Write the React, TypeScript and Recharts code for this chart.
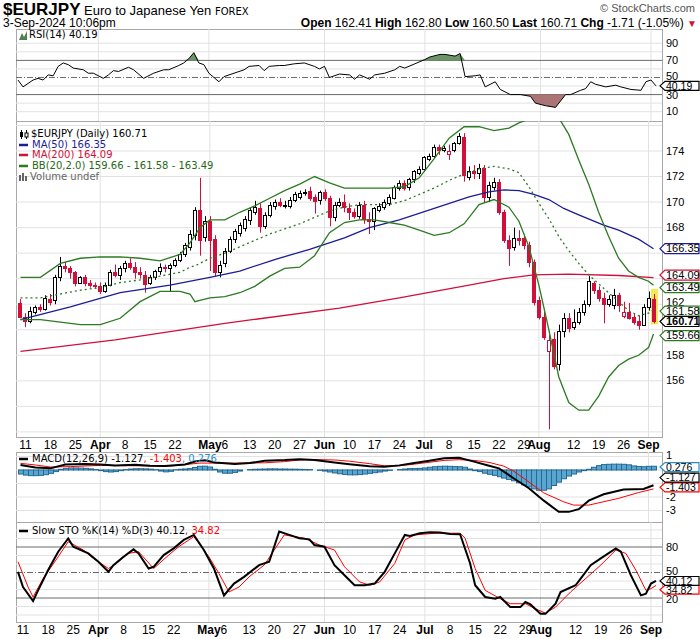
import React from 'react';
import { ComposedChart, Bar, Line, Area, XAxis, YAxis, ReferenceLine } from 'recharts';

// ---- daily bars, Mar 8 .. Sep 3 2024 (index 0..127) ----
const open = [
  162.1,
  161.0, 160.7, 161.4, 161.8, 161.6,
  162.4, 162.3, 164.1, 165.0, 164.8,
  164.5, 163.7, 164.1, 163.7, 163.5,
  163.4, 163.0, 163.5, 164.5, 164.3,
  164.8, 165.2, 164.9, 164.5, 164.3,
  163.7, 164.1, 164.6, 164.9, 164.8,
  165.1, 165.5, 165.9, 166.5, 167.4,
  169.4, 167.3, 168.5, 167.1, 164.5,
  165.2, 166.2, 167.1, 167.6, 168.0,
  168.6, 169.2, 169.5, 168.1, 169.0,
  169.7, 170.0, 169.8, 169.7, 170.2,
  170.4, 170.7, 170.9, 170.4, 170.2,
  170.8, 170.3, 168.8, 169.8, 170.0,
  169.5, 169.2, 168.9, 169.8, 168.7,
  168.5, 169.4, 169.6, 169.9, 170.3,
  171.1, 171.5, 171.2, 171.8, 172.3,
  172.6, 173.4, 173.6, 174.3, 174.1,
  173.8, 174.1, 174.6, 175.1, 172.0,
  172.4, 172.3, 172.7, 170.4, 171.2,
  171.6, 169.2, 167.0, 166.5, 167.2,
  167.2, 166.6, 165.3, 162.3, 161.0,
  158.3, 159.3, 157.3, 159.9, 160.9,
  160.2, 160.6, 161.4, 162.0, 163.7,
  163.1, 162.5, 162.0, 161.9, 162.7,
  161.1, 161.4, 161.0, 160.7, 160.4,
  161.8, 162.41,
];
const high = [
  162.4,
  161.3, 161.8, 161.9, 162.0, 162.7,
  162.8, 164.3, 165.7, 165.3, 165.0,
  164.6, 164.2, 164.3, 163.9, 163.7,
  163.7, 163.7, 164.7, 165.1, 165.0,
  165.4, 165.6, 165.3, 164.9, 164.6,
  164.3, 164.7, 165.2, 165.1, 165.2,
  165.6, 166.1, 166.8, 167.8, 169.6,
  171.9, 168.9, 168.9, 167.4, 165.4,
  166.4, 167.3, 167.9, 168.4, 168.9,
  169.6, 170.1, 169.9, 169.2, 170.0,
  170.2, 170.3, 170.1, 170.4, 170.8,
  170.9, 171.0, 171.2, 170.6, 170.9,
  171.0, 170.5, 170.0, 170.3, 170.6,
  169.9, 169.5, 170.0, 170.1, 169.2,
  169.6, 169.9, 170.2, 170.6, 171.3,
  171.7, 171.7, 171.9, 172.5, 172.8,
  173.6, 173.8, 174.5, 174.5, 174.4,
  174.5, 174.7, 175.4, 175.4, 172.8,
  172.9, 173.0, 172.9, 171.6, 171.9,
  171.8, 169.4, 167.4, 168.0, 167.8,
  167.4, 166.9, 165.5, 162.6, 161.4,
  159.6, 159.8, 160.4, 161.3, 161.3,
  161.6, 161.7, 162.3, 164.2, 163.8,
  163.4, 162.9, 162.7, 163.2, 162.9,
  162.2, 162.1, 161.3, 161.1, 162.0,
  163.0, 162.8,
];
const low = [
  160.9,
  160.2, 160.5, 161.2, 161.4, 161.5,
  161.9, 162.0, 163.8, 164.5, 164.0,
  163.4, 163.6, 163.4, 163.3, 163.2,
  162.8, 162.9, 163.4, 164.1, 163.9,
  164.5, 164.7, 164.0, 164.0, 162.9,
  163.5, 163.9, 164.3, 164.5, 163.0,
  164.9, 165.3, 165.7, 166.2, 167.0,
  165.8, 166.9, 164.6, 164.2, 164.1,
  164.9, 166.0, 166.8, 167.3, 167.7,
  168.2, 169.0, 167.6, 167.9, 168.8,
  169.4, 169.6, 169.5, 169.5, 170.0,
  170.2, 170.5, 170.1, 169.1, 169.8,
  170.1, 168.1, 168.5, 169.6, 169.2,
  168.6, 168.7, 168.7, 168.3, 167.5,
  167.8, 169.2, 169.4, 169.7, 170.2,
  170.9, 170.9, 170.9, 171.5, 172.1,
  172.4, 173.2, 173.4, 173.7, 173.9,
  173.3, 173.9, 174.5, 171.6, 171.7,
  171.8, 171.8, 170.0, 170.0, 170.9,
  169.0, 166.8, 165.0, 166.2, 166.6,
  166.3, 164.9, 161.9, 160.8, 159.2,
  152.2, 156.9, 156.8, 159.4, 159.8,
  160.0, 160.4, 161.1, 161.8, 162.8,
  162.2, 160.5, 161.8, 161.6, 161.4,
  160.9, 160.8, 160.4, 160.0, 160.3,
  161.5, 160.5,
];
const close = [
  161.0,
  160.7, 161.5, 161.8, 161.6, 162.5,
  162.2, 164.1, 165.0, 164.8, 164.5,
  163.7, 164.1, 163.7, 163.5, 163.4,
  163.0, 163.5, 164.5, 164.3, 164.8,
  165.2, 164.9, 164.5, 164.4, 163.6,
  164.1, 164.6, 164.9, 164.8, 165.1,
  165.5, 165.9, 166.6, 167.5, 169.4,
  167.0, 168.5, 167.0, 164.5, 165.1,
  166.2, 167.1, 167.7, 168.2, 168.7,
  169.4, 169.6, 168.1, 169.0, 169.8,
  170.0, 169.8, 169.8, 170.2, 170.6,
  170.7, 170.8, 170.3, 170.1, 170.8,
  170.3, 168.8, 169.8, 170.0, 169.6,
  169.2, 168.9, 169.8, 168.7, 168.5,
  169.5, 169.7, 170.0, 170.4, 171.2,
  171.5, 171.1, 171.8, 172.4, 172.6,
  173.5, 173.6, 174.3, 174.1, 174.2,
  174.0, 174.6, 175.2, 172.1, 172.4,
  172.3, 172.7, 170.4, 171.3, 171.6,
  169.2, 167.0, 166.4, 167.2, 167.0,
  166.6, 165.3, 162.2, 161.0, 159.4,
  159.2, 157.2, 159.9, 160.9, 160.1,
  160.6, 161.4, 162.0, 163.8, 163.1,
  162.5, 162.0, 162.4, 162.7, 161.9,
  161.4, 160.9, 160.6, 160.4, 161.8,
  162.5, 160.71,
];

// ---- x axis ----
const tickIdx = [1, 6, 11, 16, 21, 26, 31, 38, 41, 46, 51, 56, 61, 66, 71, 76, 81, 86, 91, 96, 101, 104, 111, 116, 121, 126];
const tickText = ['11', '18', '25', 'Apr', '8', '15', '22', 'May', '6', '13', '20', '27', 'Jun', '10', '17', '24', 'Jul', '8', '15', '22', '29', 'Aug', '12', '19', '26', 'Sep'];
const monthIdx = [16, 38, 61, 81, 104, 126];

// ---- overlays (sampled at bar indices) ----
const ma50At = [0, 10, 20, 30, 38, 44, 51, 58, 65, 70, 76, 83, 90, 94, 97, 100, 103, 106, 109, 112, 117, 120, 124, 126, 127];
const ma50Val = [160.8, 161.8, 162.9, 163.5, 164.1, 164.6, 165.5, 166.3, 167.2, 168.0, 168.6, 169.5, 170.4, 170.8, 170.95, 170.9, 170.6, 170.2, 169.5, 169.0, 168.2, 167.8, 167.1, 166.6, 166.35];
const ma200At = [0, 19, 41, 64, 76, 90, 97, 103, 110, 120, 127];
const ma200Val = [158.3, 159.2, 160.5, 161.7, 162.5, 163.5, 164.0, 164.3, 164.35, 164.25, 164.09];

const bbAt = [0, 4, 8, 12, 16, 20, 24, 28, 32, 34, 35, 36, 38, 41, 44, 47, 50, 53, 56, 59, 62, 65, 68, 71, 74, 77, 80, 83, 86, 89, 92, 95, 98, 100, 102, 104, 106, 108, 110, 112, 114, 116, 118, 120, 122, 124, 126, 127];
const bbUpper = [164.1, 164.1, 165.2, 165.6, 165.7, 165.7, 165.6, 165.4, 165.9, 166.8, 167.4, 168.0, 168.6, 168.6, 169.2, 169.7, 170.3, 170.9, 171.4, 172.0, 171.5, 171.1, 171.1, 171.1, 171.1, 171.2, 171.9, 173.4, 175.0, 175.9, 175.9, 175.6, 175.8, 176.2, 176.5, 176.6, 176.7, 176.6, 175.3, 173.3, 171.4, 169.2, 167.3, 165.6, 164.6, 164.1, 163.8, 163.49];
const bbMid = [162.5, 162.5, 162.8, 163.1, 163.3, 163.7, 163.9, 164.2, 164.5, 164.9, 165.0, 165.2, 165.6, 166.0, 166.5, 167.0, 167.5, 167.9, 168.3, 168.8, 169.3, 169.6, 169.8, 169.8, 169.8, 170.1, 170.6, 171.1, 171.7, 172.2, 172.6, 172.8, 172.6, 172.3, 171.2, 169.9, 168.7, 167.3, 166.2, 165.2, 164.3, 163.6, 162.9, 162.2, 161.5, 161.1, 161.3, 161.58];
const bbLower = [160.8, 160.8, 160.6, 160.4, 160.4, 160.9, 162.2, 163.0, 163.0, 162.8, 162.2, 162.3, 162.5, 162.6, 162.9, 163.4, 164.2, 164.8, 164.9, 165.8, 167.6, 168.4, 168.6, 168.6, 168.4, 168.2, 167.8, 167.4, 167.6, 168.3, 169.8, 170.2, 169.6, 168.5, 166.5, 163.5, 160.0, 156.3, 154.3, 153.7, 153.7, 154.8, 156.3, 157.2, 157.7, 158.0, 158.6, 159.66];

// ---- RSI(14) ----
const rsiAt = [0, 1, 3, 4, 5, 6, 7, 8, 9, 10, 11, 13, 14, 15, 17, 18, 19, 20, 22, 23, 25, 27, 29, 30, 32, 33, 34, 35, 36, 37, 38, 40, 41, 43, 45, 46, 48, 49, 50, 52, 53, 55, 57, 59, 60, 61, 62, 64, 66, 67, 68, 70, 71, 73, 75, 76, 77, 79, 81, 82, 84, 85, 87, 88, 89, 91, 92, 93, 95, 96, 98, 100, 102, 103, 105, 107, 109, 110, 112, 113, 114, 115, 117, 119, 120, 122, 124, 125, 126, 127];
const rsiVal = [47, 39, 47, 49, 47, 53, 52, 63, 67, 65, 61, 59, 55, 55, 49, 53, 58, 57, 62, 59, 49, 55, 59, 59, 64, 67, 72, 79, 67, 65, 55, 45, 51, 55, 59, 63, 64, 58, 63, 64, 64, 66, 67, 63, 60, 63, 50, 54, 53, 48, 53, 48, 53, 55, 59, 63, 61, 66, 71, 74, 77, 77, 75, 78, 51, 52, 53, 39, 45, 36, 30, 30, 28, 20, 17, 15, 30, 30, 35, 37, 45, 42, 39, 41, 39, 36, 35, 45, 47, 40.19];

// ---- MACD(12,26,9) ----
const macdAt = [0, 3, 6, 9, 13, 16, 19, 23, 26, 29, 33, 35, 37, 39, 43, 46, 49, 53, 56, 59, 63, 66, 70, 73, 76, 79, 82, 85, 88, 91, 94, 96, 99, 102, 105, 108, 110, 112, 114, 117, 121, 125, 127];
const macdVal = [0.37, 0.19, 0.12, 0.4, 0.45, 0.4, 0.34, 0.38, 0.31, 0.29, 0.4, 0.62, 0.71, 0.56, 0.45, 0.51, 0.68, 0.73, 0.8, 0.73, 0.56, 0.43, 0.28, 0.23, 0.34, 0.51, 0.68, 0.86, 0.9, 0.62, 0.31, 0.12, -0.63, -1.35, -2.27, -3.1, -3.1, -2.9, -2.27, -1.8, -1.45, -1.4, -1.127];
const sigAt = [0, 3, 6, 10, 16, 23, 30, 36, 43, 49, 53, 56, 59, 63, 66, 70, 73, 76, 79, 85, 88, 91, 94, 97, 99, 101, 105, 109, 111, 114, 120, 124, 127];
const sigVal = [0.49, 0.37, 0.22, 0.25, 0.34, 0.31, 0.29, 0.51, 0.51, 0.53, 0.62, 0.74, 0.77, 0.74, 0.65, 0.47, 0.31, 0.31, 0.43, 0.71, 0.76, 0.71, 0.56, 0.28, -0.1, -0.63, -1.7, -2.36, -2.6, -2.6, -2.1, -1.67, -1.403];
const macdHist = [
  -0.3, -0.38, -0.42, -0.42, -0.4, -0.35, -0.25, -0.12,
  0.05, 0.12, 0.15, 0.15, 0.14, 0.12, 0.08, 0.03,
  -0.05, -0.12, -0.15, -0.12, -0.05,
  0.03, 0.07, 0.09, 0.09, 0.08, 0.06, 0.02,
  -0.08, -0.14, -0.1,
  0.02, 0.05, 0.07, 0.1,
  0.18, 0.27, 0.28, 0.22, 0.05,
  -0.15, -0.24, -0.24, -0.18, -0.08, 0.0,
  0.03, 0.05, 0.06, 0.07, 0.08, 0.08, 0.07, 0.07, 0.06, 0.06, 0.05, 0.04, 0.03,
  0.0, -0.03, -0.08,
  -0.15, -0.22, -0.28, -0.33, -0.36, -0.36, -0.34, -0.3, -0.25, -0.2, -0.15, -0.08, -0.03,
  0.0, 0.03,
  0.07, 0.1, 0.1, 0.12, 0.15,
  0.2, 0.24, 0.27, 0.28, 0.27, 0.25, 0.24, 0.2,
  0.07, -0.05, -0.12,
  -0.24, -0.32, -0.4, -0.5, -0.6, -0.7, -0.8, -0.95, -1.1, -1.25, -1.4, -1.5, -1.5, -1.4,
  -1.15, -0.9, -0.65, -0.45, -0.3, -0.15, -0.05,
  0.05,
  0.2, 0.32, 0.4, 0.42, 0.43, 0.43, 0.42, 0.38, 0.3, 0.26, 0.24, 0.27, 0.276,
];

// ---- Slow stochastic ----
const kAt = [0, 1, 3, 4, 6, 8, 10, 11, 14, 16, 18, 19, 21, 23, 24, 26, 27, 29, 31, 33, 35, 37, 39, 41, 43, 45, 48, 50, 52, 54, 56, 58, 59, 61, 63, 65, 67, 69, 71, 73, 75, 77, 78, 80, 82, 84, 86, 88, 90, 91, 93, 95, 96, 98, 100, 101, 102, 104, 105, 107, 108, 111, 112, 114, 116, 119, 120, 122, 124, 125, 126, 127];
const kVal = [50.8, 33, 16.4, 29, 53, 74.5, 90, 80.4, 72.5, 62.6, 50.8, 58.7, 68.5, 77.2, 72.5, 54.7, 56.7, 70.5, 78.4, 88.3, 94.2, 76.4, 54.7, 23, 37, 44.9, 58.7, 62.6, 98.2, 94.2, 90.3, 89, 82.4, 80.4, 58.7, 46.8, 35, 35, 37, 50.8, 72.5, 94.2, 93, 96.2, 97.4, 97, 95.4, 95, 60.7, 35, 21.2, 19.2, 21.2, 9.3, 9.3, 15.3, 12.5, 1.4, 1.4, 13.3, 27.1, 35, 42.9, 58.7, 66.6, 78.4, 74.5, 46.8, 23.1, 25.1, 37, 40.12];
const dAt = [0, 2, 3, 5, 8, 10, 13, 15, 18, 20, 22, 24, 27, 30, 32, 35, 38, 40, 42, 44, 46, 49, 51, 53, 57, 60, 63, 65, 68, 70, 72, 75, 77, 79, 83, 88, 89, 91, 93, 96, 98, 101, 103, 105, 107, 110, 113, 116, 119, 121, 123, 125, 126, 127];
const dVal = [62.6, 33, 21.2, 42.9, 68.5, 86.3, 76.4, 66.6, 54.7, 62.6, 72.5, 74.5, 54.7, 70.5, 80.4, 92.2, 68.5, 48.8, 27.1, 33, 44.9, 58.7, 76.4, 94.2, 90.3, 82.4, 76.4, 56.7, 38.9, 35, 38.9, 60.7, 88.3, 94.2, 96.2, 96.2, 90.3, 54.7, 29, 19.2, 13.3, 13.3, 7.4, 2.2, 9.3, 27.1, 42.9, 58.7, 76.4, 72.5, 52.8, 29, 31, 34.82];

const rows: any[] = open.map((o, i) => ({ i, o, h: high[i], l: low[i], c: close[i], hl: [low[i], high[i]], hist: macdHist[i] }));
const put = (key: string, at: number[], vals: number[]) => at.forEach((ix, k) => { rows[ix][key] = vals[k]; });
put('ma50', ma50At, ma50Val);
put('ma200', ma200At, ma200Val);
put('bbU', bbAt, bbUpper);
put('bbM', bbAt, bbMid);
put('bbL', bbAt, bbLower);
put('rsi', rsiAt, rsiVal);
put('macd', macdAt, macdVal);
put('sig', sigAt, sigVal);
put('k', kAt, kVal);
put('d', dAt, dVal);

const RED = '#d0103a';
const NAVY = '#1c1c96';
const GREEN = '#2c7a22';
const GRID = '#e2e2e2';
const FRAME = '#a8a8a8';
const DARK = '#6a6a6a';
const NARROW = "'Liberation Sans Narrow', 'Arial Narrow', 'Liberation Sans', sans-serif";
const VERD = "'DejaVu Sans', Verdana, sans-serif";
const AXF = "'Liberation Sans', Arial, sans-serif";
const MARGIN = { top: 0, right: 38, bottom: 0, left: 16 };
const PAD = { left: 2, right: 6 };

const Candle = (p: any) => {
  const { x, y, width, height, payload } = p;
  if (!payload) return null;
  const { o, h, l, c, i } = payload;
  const top = Math.min(y, y + height);
  const span = Math.abs(height);
  const py = (v: number) => top + ((h - v) / (h - l)) * span;
  const cx = Math.round(x + width / 2);
  const prev = i > 0 ? close[i - 1] : o;
  const col = c < prev ? RED : '#000';
  const bTop = Math.round(py(Math.max(o, c)));
  const bBot = Math.round(py(Math.min(o, c)));
  return (
    <g>
      {i === close.length - 1 && <rect x={cx - 3} y={top - 5} width={7} height={span + 6} fill="#f4ec55" />}
      <line x1={cx + 0.5} x2={cx + 0.5} y1={top} y2={top + span} stroke={col} strokeWidth={1} />
      <rect x={cx - 1.5} y={bTop + 0.5} width={3} height={Math.max(bBot - bTop, 1)} fill={c < o ? col : '#fff'} stroke={col} strokeWidth={1} />
    </g>
  );
};

const HistBar = (p: any) => {
  const { x, y, width, height } = p;
  const top = Math.min(y, y + height);
  const hh = Math.abs(height);
  if (!hh) return null;
  return <rect x={Math.round(x) + 0.5} y={top} width={Math.round(width)} height={hh} fill="#5aa6d1" stroke="#246a94" strokeWidth={1} />;
};

const DateTick = (p: any) => {
  const v = p.payload.value;
  const k = tickIdx.indexOf(v);
  return (
    <text x={p.x} y={p.y + 12} textAnchor="middle" fontSize={12} fontWeight={monthIdx.includes(v) ? 700 : 400} fontFamily={AXF} fill="#000">
      {tickText[k]}
    </text>
  );
};

const axisLabel = (t: string, dy = 0) => (p: any) => (
  <text x={666} y={p.viewBox.y + 3.5 + dy} fontSize={11} fontFamily={AXF} fill="#000">{t}</text>
);

const tag = (t: string, col: string, dy = 0, bold = false, hh = 5) => (p: any) => {
  const y = p.viewBox.y + dy;
  return (
    <g>
      <path d={`M660,${y} L665,${y - hh} L699,${y - hh} L699,${y + hh} L665,${y + hh} Z`} fill="#fff" stroke={col} strokeWidth={1.2} />
      <text x={666} y={y + 3.8} fontSize={hh < 5 ? 10.5 : 11} fontWeight={bold ? 700 : 400} fontFamily={AXF} fill="#000">{t}</text>
    </g>
  );
};

const monthLines = () => monthIdx.map((m) => <ReferenceLine key={'m' + m} x={m} stroke={GRID} zIndex={-100} />);

const Dash = ({ c }: { c: string }) => (
  <svg width={11} height={8} style={{ verticalAlign: 'middle', marginRight: 2 }}>
    <line x1={0} y1={4} x2={9} y2={4} stroke={c} strokeWidth={2.5} />
  </svg>
);

const lineProps = { dot: false, connectNulls: true, isAnimationActive: false, type: 'linear' as const };

export default function App() {
  const rsiGrid = [10, 20, 40, 60, 80, 90];
  const stoGrid = [0, 10, 30, 40, 60, 70, 90, 100];
  const mainGrid = [152, 154, 156, 158, 160, 162, 164, 166, 168, 170, 172, 174, 176];
  const mainLabels = [156, 158, 168, 170, 172, 174];
  const macdGrid = [1, 0, -1, -2, -3];
  return (
    <div style={{ position: 'absolute', left: 0, top: 0, width: 700, height: 639, background: '#fff', overflow: 'hidden', fontFamily: VERD }}>
      {[[29, 93], [121, 317], [452, 71], [522, 101]].map(([t, h]) => (
        <div key={t} style={{ position: 'absolute', left: 16, top: t, width: 647, height: h, boxSizing: 'border-box', border: `1px solid ${FRAME}` }} />
      ))}

      {/* RSI */}
      <div style={{ position: 'absolute', left: 0, top: 29 }}>
        <ComposedChart width={700} height={92} data={rows} margin={MARGIN}>
          <XAxis dataKey="i" hide padding={PAD} />
          <YAxis hide domain={[-0.9, 106.7]} allowDataOverflow />
          {monthLines()}
          {rsiGrid.map((v) => <ReferenceLine key={v} y={v} stroke={GRID} zIndex={-100} />)}
          <ReferenceLine y={70} stroke={DARK} zIndex={-90} />
          <ReferenceLine y={30} stroke={DARK} zIndex={-90} />
          <ReferenceLine y={50} stroke={DARK} strokeDasharray="6 2 1 2" zIndex={-90} />
          {[10, 30, 50, 70, 90].map((v) => <ReferenceLine key={'l' + v} y={v} stroke="none" label={axisLabel(String(v), v === 50 ? -0.5 : v === 30 ? 0.8 : 0)} />)}
          <Area dataKey={(r: any) => (r.rsi == null ? null : Math.max(r.rsi, 70))} baseValue={70} connectNulls fill="#5b8a57" fillOpacity={0.9} stroke="none" isAnimationActive={false} />
          <Area dataKey={(r: any) => (r.rsi == null ? null : Math.min(r.rsi, 30))} baseValue={30} connectNulls fill="#a26666" fillOpacity={0.9} stroke="none" isAnimationActive={false} />
          <Line dataKey="rsi" stroke="#000" strokeWidth={1} {...lineProps} />
          <ReferenceLine y={40.19} stroke="none" label={tag('40.19', '#000', 0, false, 4.5)} />
        </ComposedChart>
      </div>

      {/* Price */}
      <div style={{ position: 'absolute', left: 0, top: 121 }}>
        <ComposedChart width={700} height={331} data={rows} margin={MARGIN}>
          <XAxis dataKey="i" padding={PAD} ticks={tickIdx} interval={0} tick={DateTick} axisLine={false} tickLine={false} tickSize={0} tickMargin={0} height={15} />
          <YAxis hide domain={[151.6, 176.35]} allowDataOverflow />
          {monthLines()}
          {mainGrid.map((v) => <ReferenceLine key={v} y={v} stroke={GRID} zIndex={-100} />)}
          {mainLabels.map((v) => <ReferenceLine key={'l' + v} y={v} stroke="none" label={axisLabel(String(v))} />)}
          <ReferenceLine y={162} stroke="none" label={axisLabel('162', -1.5)} />
          <Bar dataKey="hl" shape={Candle} isAnimationActive={false} />
          <Line dataKey="ma200" stroke={RED} strokeWidth={1.3} {...lineProps} />
          <Line dataKey="ma50" stroke={NAVY} strokeWidth={1.3} {...lineProps} />
          <Line dataKey="bbU" stroke={GREEN} strokeWidth={1.3} {...lineProps} />
          <Line dataKey="bbL" stroke={GREEN} strokeWidth={1.3} {...lineProps} />
          <Line dataKey="bbM" stroke={GREEN} strokeWidth={1.3} strokeDasharray="2 3" {...lineProps} />
          <ReferenceLine y={166.35} stroke="none" label={tag('166.35', NAVY)} />
          <ReferenceLine y={163.49} stroke="none" label={tag('163.49', GREEN, 2.5)} />
          <ReferenceLine y={164.09} stroke="none" label={tag('164.09', RED, -2.5)} />
          <ReferenceLine y={159.66} stroke="none" label={tag('159.66', GREEN, 1.5)} />
          <ReferenceLine y={161.58} stroke="none" label={tag('161.58', GREEN, 1.5)} />
          <ReferenceLine y={160.71} stroke="none" label={tag('160.71', '#000', 0.8, true)} />
        </ComposedChart>
      </div>

      {/* MACD: svg starts 6px above the panel so the top label has room */}
      <div style={{ position: 'absolute', left: 0, top: 446 }}>
        <ComposedChart width={700} height={76} data={rows} margin={{ ...MARGIN, top: 6 }} barCategoryGap={0}>
          <XAxis dataKey="i" hide padding={PAD} />
          <YAxis hide domain={[-3.85, 1.33]} allowDataOverflow />
          {monthLines()}
          {macdGrid.map((v) => <ReferenceLine key={v} y={v} stroke={GRID} zIndex={-100} />)}
          <ReferenceLine y={1} stroke="none" label={axisLabel('1', -1)} />
          <ReferenceLine y={-2} stroke="none" label={axisLabel('-2', 0.5)} />
          <ReferenceLine y={-3} stroke="none" label={axisLabel('-3')} />
          <Bar dataKey="hist" shape={HistBar} isAnimationActive={false} />
          <Line dataKey="sig" stroke="#ff0000" strokeWidth={1} {...lineProps} />
          <Line dataKey="macd" stroke="#000" strokeWidth={2} {...lineProps} />
          <ReferenceLine y={0.276} stroke="none" label={tag('0.276', '#2f8fc4', 0.8, false, 4.5)} />
          <ReferenceLine y={-1.403} stroke="none" label={tag('-1.403', '#ff0000', -1.6, false, 4.5)} />
          <ReferenceLine y={-1.127} stroke="none" label={tag('-1.127', '#000', -7.6, false, 4.5)} />
        </ComposedChart>
      </div>

      {/* Slow stochastic */}
      <div style={{ position: 'absolute', left: 0, top: 522 }}>
        <ComposedChart width={700} height={117} data={rows} margin={MARGIN}>
          <XAxis dataKey="i" padding={PAD} ticks={tickIdx} interval={0} tick={DateTick} axisLine={false} tickLine={false} tickSize={0} tickMargin={0} height={17} />
          <YAxis hide domain={[-8.2, 109.4]} allowDataOverflow />
          {monthLines()}
          {stoGrid.map((v) => <ReferenceLine key={v} y={v} stroke={GRID} zIndex={-100} />)}
          <ReferenceLine y={80} stroke={DARK} zIndex={-90} label={axisLabel('80')} />
          <ReferenceLine y={20} stroke={DARK} zIndex={-90} label={axisLabel('20', 1.2)} />
          <ReferenceLine y={50} stroke={DARK} strokeDasharray="6 2 1 2" zIndex={-90} label={axisLabel('50', -0.8)} />
          <Line dataKey="d" stroke="#ff0000" strokeWidth={1} {...lineProps} />
          <Line dataKey="k" stroke="#000" strokeWidth={2} {...lineProps} />
          <ReferenceLine y={34.82} stroke="none" label={tag('34.82', '#ff0000', 4.4, false, 4.4)} />
          <ReferenceLine y={40.12} stroke="none" label={tag('40.12', '#000', 0, false, 4.4)} />
        </ComposedChart>
      </div>

      {/* header */}
      <div style={{ position: 'absolute', left: 3, top: 0, whiteSpace: 'nowrap', lineHeight: '19px' }}>
        <span style={{ fontFamily: NARROW, fontWeight: 700, fontSize: 17 }}>$EURJPY</span>
        <span style={{ fontFamily: NARROW, fontSize: 13 }}> Euro to Japanese Yen </span>
        <span style={{ fontFamily: VERD, fontSize: 10 }}>FOREX</span>
      </div>
      <div style={{ position: 'absolute', left: 3, top: 17, fontFamily: NARROW, fontSize: 12, lineHeight: '13px', whiteSpace: 'nowrap' }}>3-Sep-2024 10:06pm</div>
      <div style={{ position: 'absolute', right: 5, top: 2, fontFamily: AXF, fontSize: 11, color: '#555', whiteSpace: 'nowrap' }}>© StockCharts.com</div>
      <div style={{ position: 'absolute', right: 3, top: 17, fontFamily: NARROW, fontSize: 12, lineHeight: '13px', whiteSpace: 'nowrap' }}>
        <b>Open</b> 162.41 <b>High</b> 162.80 <b>Low</b> 160.50 <b>Last</b> 160.71 <b>Chg</b> -1.71 (-1.05%) <span style={{ color: RED, fontSize: 10 }}>▼</span>
      </div>

      {/* panel legends */}
      <div style={{ position: 'absolute', left: 19, top: 29, fontSize: 10, lineHeight: '12px', whiteSpace: 'nowrap' }}>
        <svg width={9} height={9} style={{ verticalAlign: 'middle', marginRight: 1 }}><polygon points="0,9 3,2 5,6 8,0 8,9" fill="#4f7f4f" /></svg>
        RSI(14) 40.19
      </div>
      <div style={{ position: 'absolute', left: 19, top: 129, fontSize: 10, lineHeight: '10.7px', whiteSpace: 'nowrap' }}>
        <div>
          <svg width={11} height={9} style={{ verticalAlign: 'middle', marginRight: 1 }}>
            <line x1={2.5} y1={0} x2={2.5} y2={9} stroke="#000" /><rect x={1} y={2} width={3} height={5} fill="#000" />
            <line x1={7.5} y1={0} x2={7.5} y2={9} stroke="#000" /><rect x={6} y={3} width={3} height={4} fill="#fff" stroke="#000" />
          </svg>
          $EURJPY (Daily) 160.71
        </div>
        <div style={{ color: NAVY }}><Dash c={NAVY} />MA(50) 166.35</div>
        <div style={{ color: RED }}><Dash c={RED} />MA(200) 164.09</div>
        <div style={{ color: '#1f6a16' }}><Dash c={GREEN} />BB(20,2.0) 159.66 - 161.58 - 163.49</div>
        <div style={{ color: '#666' }}>
          <svg width={10} height={9} style={{ verticalAlign: 'middle', marginRight: 1 }}>
            <rect x={0} y={3} width={2} height={6} fill="#666" /><rect x={3} y={1} width={2} height={8} fill="#666" /><rect x={6} y={4} width={2} height={5} fill="#666" />
          </svg>
          Volume undef
        </div>
      </div>
      <div style={{ position: 'absolute', left: 19, top: 453, fontSize: 10, lineHeight: '12px', whiteSpace: 'nowrap' }}>
        <Dash c="#000" />MACD(12,26,9) -1.127<span style={{ color: '#ff0000' }}>, -1.403</span><span style={{ color: '#2f8fc4' }}>, 0.276</span>
      </div>
      <div style={{ position: 'absolute', left: 19, top: 525, fontSize: 10, lineHeight: '12px', whiteSpace: 'nowrap' }}>
        <Dash c="#000" />Slow STO %K(14) %D(3) 40.12<span style={{ color: '#ff0000' }}>, 34.82</span>
      </div>
    </div>
  );
}
